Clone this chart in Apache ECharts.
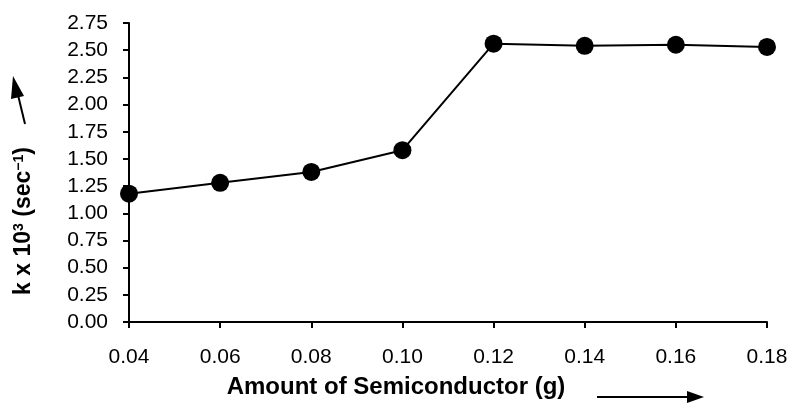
<!DOCTYPE html>
<html>
<head>
<meta charset="utf-8">
<script src="https://cdn.jsdelivr.net/npm/echarts@6/dist/echarts.min.js"></script>
<style>
  html, body { margin: 0; padding: 0; background: #fff; }
  #chart { width: 794px; height: 403px; }
</style>
</head>
<body>
<div id="chart"></div>
<script>
var amounts = [0.04, 0.06, 0.08, 0.10, 0.12, 0.14, 0.16, 0.18];
var rates = [1.18, 1.28, 1.38, 1.58, 2.56, 2.54, 2.55, 2.53];

var points = amounts.map(function (a, i) { return [a, rates[i]]; });

var fontFamily = '"Liberation Sans", Arial, sans-serif';

var option = {
    animation: false,
    backgroundColor: '#fff',
    grid: { left: 129, right: 27, top: 23, bottom: 81 },
    xAxis: {
        type: 'value',
        min: 0.04,
        max: 0.18,
        interval: 0.02,
        axisLine: { lineStyle: { color: '#000', width: 2 } },
        axisTick: { show: true, length: 6, lineStyle: { color: '#000', width: 2 } },
        axisLabel: {
            color: '#000', fontSize: 21, fontFamily: fontFamily, margin: 25,
            formatter: function (v) { return v.toFixed(2); }
        },
        splitLine: { show: false }
    },
    yAxis: {
        type: 'value',
        min: 0,
        max: 2.75,
        interval: 0.25,
        axisLine: { show: true, lineStyle: { color: '#000', width: 2 } },
        axisTick: { show: true, length: 6, lineStyle: { color: '#000', width: 2 } },
        axisLabel: {
            color: '#000', fontSize: 21, fontFamily: fontFamily, margin: 21,
            formatter: function (v) { return v.toFixed(2); }
        },
        splitLine: { show: false }
    },
    graphic: [
        {
            type: 'text',
            x: 396, y: 387,
            style: {
                text: 'Amount of Semiconductor (g)',
                font: 'bold 24px ' + fontFamily,
                fill: '#000',
                align: 'center',
                verticalAlign: 'middle'
            }
        },
        {
            type: 'line',
            shape: { x1: 597, y1: 397, x2: 690, y2: 397 },
            style: { stroke: '#000', lineWidth: 2 }
        },
        {
            type: 'polygon',
            shape: { points: [[704, 397], [687, 391], [687, 403]] },
            style: { fill: '#000' }
        },
        {
            type: 'text',
            x: 24, y: 221,
            rotation: Math.PI / 2,
            style: {
                text: '{b|k x 10}{s|3}{b| (sec}{s|\u22121}{b|)}',
                rich: {
                    b: { font: 'bold 23px ' + fontFamily, fill: '#000', verticalAlign: 'bottom' },
                    s: { font: 'bold 14px ' + fontFamily, fill: '#000', verticalAlign: 'top', padding: [0, 0, 9, 0] }
                },
                align: 'center',
                verticalAlign: 'middle'
            }
        },
        {
            type: 'line',
            shape: { x1: 25, y1: 124, x2: 18, y2: 95 },
            style: { stroke: '#000', lineWidth: 2 }
        },
        {
            type: 'polygon',
            shape: { points: [[13, 76], [11, 99], [24, 96]] },
            style: { fill: '#000' }
        }
    ],
    series: [
        {
            type: 'line',
            data: points,
            symbol: 'circle',
            symbolSize: 18,
            itemStyle: { color: '#000' },
            lineStyle: { color: '#000', width: 2 }
        }
    ]
};

var myChart = echarts.init(document.getElementById('chart'));
myChart.setOption(option);
</script>
</body>
</html>
